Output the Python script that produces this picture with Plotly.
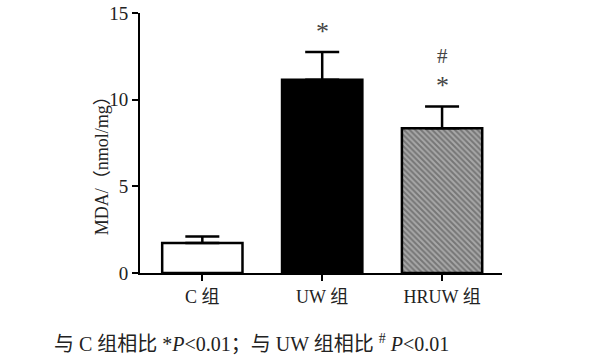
import plotly.graph_objects as go

categories = ["C 组", "UW 组", "HRUW 组"]
mda_mean = [1.73, 11.15, 8.35]
mda_sd = [0.37, 1.6, 1.25]
sig_marks = ["", "*", "*"]
sig_marks2 = ["", "", "#"]
y_ticks = [0, 5, 10, 15]

serif = "Liberation Serif, Times New Roman, Noto Sans CJK SC, serif"

fig = go.Figure()
fig.add_trace(go.Bar(
    x=categories, y=mda_mean, width=0.67,
    marker=dict(
        color=["white", "black", "#a8a8a8"],
        line=dict(color="black", width=2.5),
        pattern=dict(shape=["", "", "\\"], fgcolor="#1a1a1a", bgcolor="#a8a8a8",
                     size=4, solidity=0.5),
    ),
    error_y=dict(type="data", symmetric=False, array=mda_sd, arrayminus=[0, 0, 0],
                 color="black", thickness=2.5, width=17),
    showlegend=False,
))

for c, m, s, a, b in zip(categories, mda_mean, mda_sd, sig_marks, sig_marks2):
    if a:
        fig.add_annotation(x=c, y=m + s, yshift=21, text=a, showarrow=False,
                           font=dict(family=serif, size=26, color="#444444"))
    if b:
        fig.add_annotation(x=c, y=m + s, yshift=51, text=b, showarrow=False,
                           font=dict(family=serif, size=21, color="#444444"))

# y-axis title (placed like the reference, slightly below centre)
fig.add_annotation(xref="paper", yref="paper", x=-0.138, y=0.43, textangle=-90,
                   text="MDA/（nmol/mg）", showarrow=False,
                   font=dict(family=serif, size=18, color="#222222"))

fig.add_annotation(xref="paper", yref="paper", x=-0.243, y=-0.27, xanchor="left",
                   yanchor="middle",
                   text="与 C 组相比 *<i>P</i><0.01；与 UW 组相比 <sup>#</sup> <i>P</i><0.01",
                   showarrow=False, font=dict(family=serif, size=20, color="#222222"))

fig.update_layout(
    width=601, height=364,
    margin=dict(l=140, r=99, t=13, b=91),
    paper_bgcolor="white", plot_bgcolor="white",
    font=dict(family=serif, color="#222222"),
    bargap=0.33,
)
fig.update_xaxes(range=[-0.52, 2.5], showline=True, linecolor="black", linewidth=2,
                 ticks="outside", ticklen=6, tickwidth=2, tickcolor="black",
                 tickfont=dict(size=18, family=serif), showgrid=False, zeroline=False,
                 automargin=False)
fig.update_yaxes(range=[0, 15], tickvals=y_ticks, showline=True, linecolor="black",
                 linewidth=2, ticks="outside", ticklen=6, tickwidth=2, tickcolor="black",
                 tickfont=dict(size=19, family=serif), showgrid=False, zeroline=False,
                 automargin=False, ticklabeloverflow="allow")

fig.write_html("out.html", config={"displayModeBar": False},
               post_script="document.body.style.margin='0px';")
